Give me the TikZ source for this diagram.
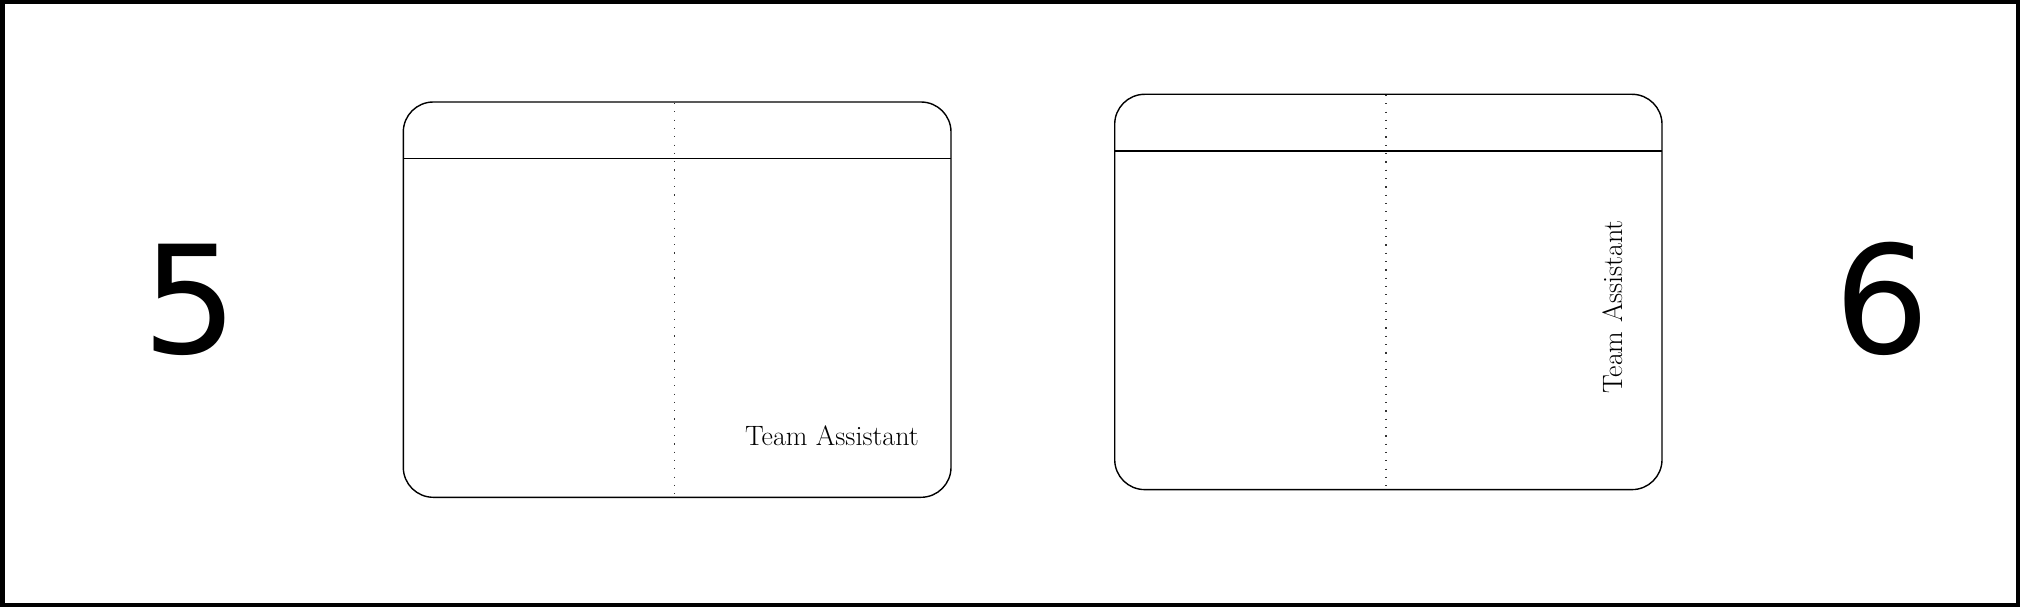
\documentclass[tikz,border=0pt]{standalone}
\usepackage{fontspec}
\newfontfamily\numfont{DejaVu Sans}
\begin{document}
\begin{tikzpicture}[x=1pt,y=-1pt,
  frame/.style={draw=black,line width=4.5pt},
  card/.style={draw=black,line width=1.4pt,rounded corners=30pt},
  hdr/.style={draw=black,line width=1.4pt},
  fold/.style={draw=black!80,line width=1.2pt,dash pattern=on 1.2pt off 7.1pt},
  bignum/.style={font=\numfont\fontsize{150}{155}\selectfont,inner sep=0pt,anchor=base},
  lbl/.style={font=\fontsize{28}{33}\selectfont,inner sep=0pt}]
\useasboundingbox (0,0) rectangle (2020,607);
\fill[white] (0,0) rectangle (2020,607);
\draw[frame] (2.25,2.25) rectangle (2017.75,604.75);
% card 1
\draw[card] (403.3,102) rectangle (951,497.3);
\draw[hdr] (403.3,158.7) -- (951,158.7);
\draw[fold] (674.7,103) -- (674.7,497);
\node[lbl,anchor=base east] (t1) at (919,445) {Team Assistant};
% card 2
\draw[card] (1114.7,94.3) rectangle (1662,489.6);
\draw[hdr] (1114.7,151) -- (1662,151);
\draw[fold] (1386,95) -- (1386,489);
\node[lbl,anchor=base west,rotate=90] (t2) at (1622,394) {Team Assistant};
% numbers
\node[bignum] (n5) at (190,353) {5};
\node[bignum] (n6) at (1882,353) {6};
\end{tikzpicture}
\end{document}
